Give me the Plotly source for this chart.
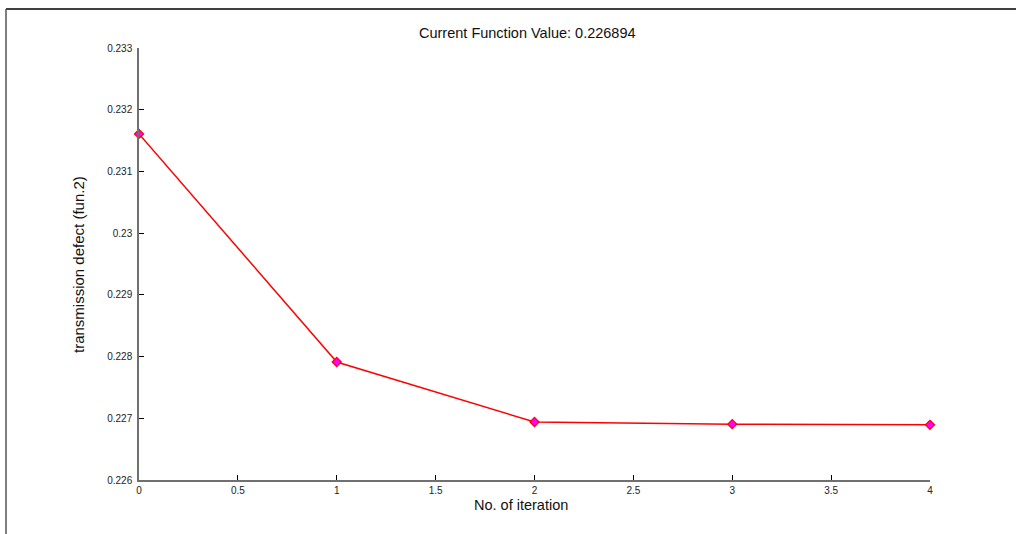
import plotly.graph_objects as go

iterations = [0, 1, 2, 3, 4]
fun_values = [0.231607, 0.227912, 0.226940, 0.226905, 0.226894]
title_text = "Current Function Value: 0.226894"
x_label = "No. of iteration"
y_label = "transmission defect (fun.2)"

W, H = 1016, 534
L, R, T, B = 139, 930, 48, 480

def px(x):
    return (x - L) / (R - L)

def py(y):
    return (B - y) / (B - T)

fig = go.Figure()
fig.add_trace(go.Scatter(
    x=iterations, y=fun_values, mode="lines+markers",
    line=dict(color="#ff0000", width=1.5),
    marker=dict(symbol="diamond", size=7, color="#ff00ff",
                line=dict(color="#ff0000", width=1.2)),
    cliponaxis=False, showlegend=False))

axis_common = dict(
    showgrid=False, zeroline=False, showline=True, linecolor="#707070",
    linewidth=1.5, ticks="inside", ticklen=5, tickwidth=1, tickcolor="#000000",
    tickfont=dict(family="Liberation Sans, Arial", size=10, color="#222222"),
    mirror=False)

fig.update_xaxes(range=[0, 4], dtick=0.5, tick0=0, **axis_common)
fig.update_yaxes(range=[0.226, 0.233], dtick=0.001, tick0=0.226,
                 tickformat="~g", ticklabelstandoff=3, **axis_common)

fig.update_layout(
    width=W, height=H,
    margin=dict(l=L, r=W - R, t=T, b=H - B, pad=0),
    paper_bgcolor="white", plot_bgcolor="white",
    font=dict(family="Liberation Sans, Arial", color="#222222"),
    showlegend=False)

fig.add_annotation(text=title_text, xref="paper", yref="paper",
                   x=px(527), y=py(33), showarrow=False,
                   xanchor="center", yanchor="middle",
                   font=dict(size=14.5, color="#111111"))
fig.add_annotation(text=x_label, xref="paper", yref="paper",
                   x=px(521), y=py(505), showarrow=False,
                   xanchor="center", yanchor="middle",
                   font=dict(size=14.5, color="#111111"))
fig.add_annotation(text=y_label, xref="paper", yref="paper",
                   x=px(78), y=py(265), showarrow=False, textangle=-90,
                   xanchor="center", yanchor="middle",
                   font=dict(size=15, color="#111111"))

# outer frame lines
fig.add_shape(type="line", xref="paper", yref="paper",
              x0=px(6), x1=px(1016), y0=py(9), y1=py(9),
              line=dict(color="#000000", width=1.5))
fig.add_shape(type="line", xref="paper", yref="paper",
              x0=px(6), x1=px(6), y0=py(9), y1=py(534),
              line=dict(color="#555555", width=1.5))

fig.write_html("out.html", config={"displayModeBar": False},
               post_script="document.body.style.margin='0px';document.body.style.overflow='hidden';")
